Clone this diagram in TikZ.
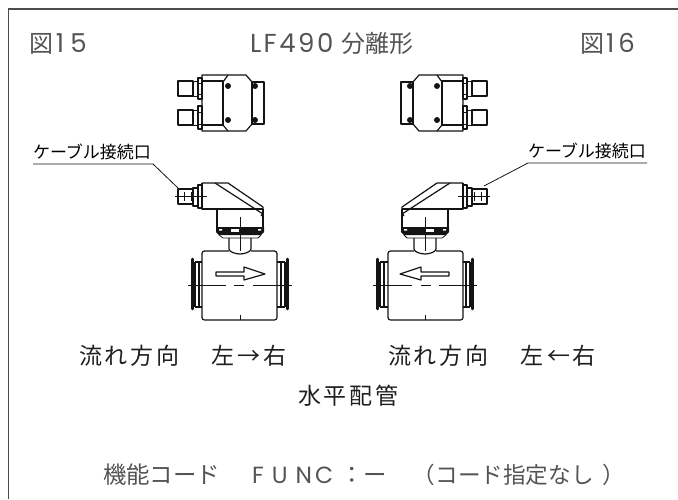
\documentclass[tikz,border=0pt]{standalone}
\usepackage{fontspec}
\setmainfont{Noto Sans CJK JP}
\newfontfamily\latinfont{Poppins}
\newcommand{\kk}{\kern3pt\relax}
\newcommand{\headlat}{\latinfont\fontsize{26}{26}\selectfont}
\definecolor{graytxt}{gray}{0.33}
\definecolor{darktxt}{gray}{0.12}
\definecolor{linecol}{gray}{0.08}
\tikzset{
  txt/.style={inner sep=0pt,outer sep=0pt,anchor=base west},
  headtxt/.style={txt,text=graytxt,font=\fontsize{24}{24}\selectfont},
  flowtxt/.style={txt,text=darktxt,font=\fontsize{23}{23}\selectfont},
  functxt/.style={txt,text=graytxt,font=\fontsize{23.4}{24}\selectfont},
  labeltxt/.style={txt,text=black,font=\fontsize{17}{17}\selectfont},
  part/.style={draw=linecol,line width=1.2pt,line join=round},
  thin part/.style={draw=linecol,line width=0.8pt},
  heavy part/.style={draw=linecol,line width=2.6pt},
  leader/.style={draw=linecol,line width=0.8pt},
  frameline/.style={draw=black!70,line width=1.5pt},
}
\newcommand{\topview}{%
  \draw[part] (178,81) rectangle (193,96);
  \draw[part] (178,110) rectangle (193,125);
  \draw[thin part] (193,81) -- (198,81) (193,96) -- (198,96) (193,110) -- (198,110) (193,125) -- (198,125);
  \draw[part] (198,78) rectangle (202,99);
  \draw[part] (198,106) rectangle (202,129);
  \draw[thin part] (198,83) -- (202,83) (198,94) -- (202,94) (198,112) -- (202,112) (198,124) -- (202,124);
  \draw[part] (202,75) -- (246,75) -- (252,82) -- (252,124) -- (246,131) -- (202,131) -- cycle;
  \draw[part] (202,81) -- (223,81) -- (223,125) -- (202,125);
  \draw[part] (228,75) -- (223,82) (223,125) -- (228,131);
  \draw[part] (252,82) rectangle (264,124);
  \foreach \px/\py in {228/86,255/86,228/120,255/120} \fill[linecol] (\px,\py) circle (3);
}
\newcommand{\sideview}{%
  \draw[part] (178,189) rectangle (193,204);
  \draw[part] (193,188) rectangle (198,206);
  \draw[part] (198,185) rectangle (202,208);
  \draw[thin part] (175,196.5) -- (207,196.5) (184,192) -- (184,201) (191,192) -- (191,201);
  \draw[part] (202,183) -- (228,183) -- (263,207) -- (263,213) -- (261,216);
  \draw[part] (202,183) -- (202,209) -- (263,209);
  \draw[part] (215,183) -- (263,214);
  \draw[part] (217,209) -- (217,228) (263,209) -- (263,228);
  \draw[thin part] (240,217) -- (240,251);
  % knurled ring
  \fill[linecol] (216,227) -- (264,227) -- (264,232) -- (261,235) -- (219,235) -- (216,232) -- cycle;
  \fill[white] (231,229) rectangle (239,232);
  \fill[white] (219,229) rectangle (222,230.5) (258,229) rectangle (261,230.5);
  \draw[thin part] (219,235) -- (223,238) -- (258,238) -- (261,235);
  % neck
  \draw[part] (229,238) -- (229,249) .. controls (229,252) and (236,254) .. (240,254) .. controls (244,254) and (251,252) .. (251,249) -- (251,238);
  % body
  \draw[part,rounded corners=2.5] (229,251) -- (202,251) -- (202,320) -- (277,320) -- (277,251) -- (251,251);
  \draw[thin part] (240,315) -- (240,320);
  % flanges
  \draw[heavy part,line cap=round] (192.5,259) -- (192.5,309);
  \draw[heavy part,line cap=round] (287.5,259) -- (287.5,309);
  \draw[part] (195,262) -- (202,262) (195,307) -- (202,307) (195,262) -- (195,307) (199,262) -- (199,307);
  \draw[part] (277,262) -- (285,262) (277,307) -- (285,307) (285,262) -- (285,307) (281,262) -- (281,307);
  % centre line
  \draw[thin part] (188,285) -- (226,285) (234,285) -- (244,285) (253,285) -- (292,285);
  % arrow
  \draw[part,fill=white] (216,272) -- (244,272) -- (244,267) -- (265,274) -- (244,280) -- (244,276) -- (216,276) -- cycle;
}
\begin{document}
\begin{tikzpicture}[x=1pt,y=-1pt]
\useasboundingbox (0,0) rectangle (678,499);
\draw[frameline] (8.5,499) -- (8.5,9) -- (678,9);
\topview \sideview
\begin{scope}[xshift=665pt,xscale=-1]
\topview \sideview
\end{scope}
\node[headtxt] (figa) at (30,52) {図\kern2pt{\headlat 1\kern6pt 5}};
\node[headtxt] (title) at (250,52) {{\headlat L\kern2.5pt F\kern2.5pt 4\kern2.5pt 9\kern2.5pt 0}\kern8pt 分離形};
\node[headtxt] (figb) at (580,52) {図\kern2pt{\headlat 1\kern4pt 6}};
\node[labeltxt] (cablea) at (33,158) {ケーブル接続口};
\node[labeltxt] (cableb) at (528,157) {ケーブル接続口};
\coordinate (laL) at (33,164); \coordinate (laK) at (153,164); \coordinate (laE) at (178,188);
\coordinate (lbR) at (647,163); \coordinate (lbK) at (528,163); \coordinate (lbE) at (484,186);
\draw[leader] (laL) -- (laK) -- (laE);
\draw[leader] (lbR) -- (lbK) -- (lbE);
\node[flowtxt] (flowa) at (79,364) {流\kk れ\kk 方\kk 向\kern32pt 左\kern3pt →\kern3pt 右};
\node[flowtxt] (flowb) at (388,364) {流\kk れ\kk 方\kk 向\kern32pt 左\kern3pt ←\kern3pt 右};
\node[flowtxt] (pipe) at (298,404) {水\kk 平\kk 配\kk 管};
\node[functxt] (func) at (103,483) {機能コード\kern32pt{\latinfont F\kern8pt U\kern8pt N\kern3pt C}\kern7pt ：ー\kern26pt {\fontsize{22.6}{24}\selectfont （コード指定なし\kern9pt ）}};
\end{tikzpicture}
\end{document}
